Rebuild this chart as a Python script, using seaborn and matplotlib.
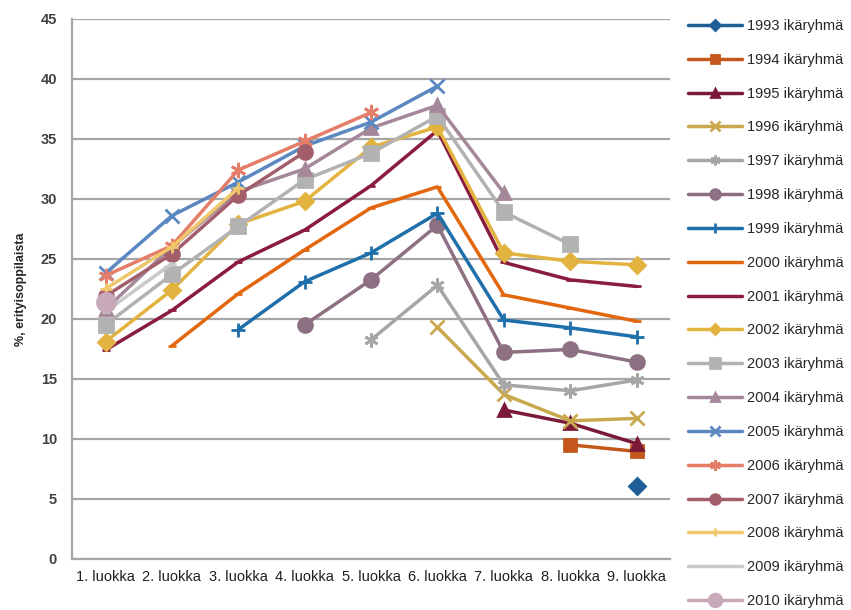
import numpy as np
import pandas as pd
import matplotlib
matplotlib.use("Agg")
import matplotlib.pyplot as plt
import seaborn as sns

# Grade levels on the x axis
grades = ["1. luokka", "2. luokka", "3. luokka", "4. luokka", "5. luokka",
          "6. luokka", "7. luokka", "8. luokka", "9. luokka"]

# Share of special-needs pupils (%) per age cohort; None = no data for that grade
cohorts = ["1993", "1994", "1995", "1996", "1997", "1998", "1999", "2000", "2001",
           "2002", "2003", "2004", "2005", "2006", "2007", "2008", "2009", "2010"]

v1993 = [None, None, None, None, None, None, None, None, 6.1]
v1994 = [None, None, None, None, None, None, None, 9.5, 8.95]
v1995 = [None, None, None, None, None, None, 12.4, 11.3, 9.6]
v1996 = [None, None, None, None, None, 19.3, 13.7, 11.5, 11.7]
v1997 = [None, None, None, None, 18.25, 22.8, 14.5, 14.0, 14.9]
v1998 = [None, None, None, 19.5, 23.25, 27.8, 17.2, 17.45, 16.4]
v1999 = [None, None, 19.1, 23.1, 25.5, 28.8, 19.9, 19.25, 18.5]
v2000 = [None, 17.75, 22.1, 25.75, 29.25, 31.0, 22.0, 20.9, 19.8]
v2001 = [17.4, 20.7, 24.75, 27.4, 31.1, 35.7, 24.7, 23.25, 22.7]
v2002 = [18.1, 22.4, 27.9, 29.8, 34.3, 36.0, 25.5, 24.8, 24.5]
v2003 = [19.5, 23.7, 27.7, 31.6, 33.8, 36.9, 28.9, 26.2, None]
v2004 = [20.8, 26.0, 30.6, 32.5, 35.9, 37.8, 30.5, None, None]
v2005 = [23.8, 28.6, 31.4, 34.4, 36.4, 39.4, None, None, None]
v2006 = [23.6, 26.1, 32.4, 34.8, 37.2, None, None, None, None]
v2007 = [21.9, 25.4, 30.3, 33.9, None, None, None, None, None]
v2008 = [22.5, 26.0, 30.9, None, None, None, None, None, None]
v2009 = [20.6, 24.6, None, None, None, None, None, None, None]
v2010 = [21.4, None, None, None, None, None, None, None, None]

values = [v1993, v1994, v1995, v1996, v1997, v1998, v1999, v2000, v2001,
          v2002, v2003, v2004, v2005, v2006, v2007, v2008, v2009, v2010]

colors = ["#1d5f96", "#c4581c", "#7a1a38", "#c9a84e", "#a6a6a6", "#8e7083",
          "#1f6faa", "#e2670f", "#8a1c40", "#e3b33f", "#b2b2b2", "#a5879a",
          "#5c88c2", "#e57e69", "#a35e6c", "#f0c76a", "#c9c9c9", "#c7a9ba"]

asterisk = (6, 2, 0)
markers = ["D", "s", "^", "x", asterisk, "o", "+", "_", "_",
           "D", "s", "^", "x", asterisk, "o", "+", "_", "o"]
msizes = [8, 9, 9, 10, 10, 10, 10, 6, 6, 8, 10, 9, 10, 11, 10, 9, 6, 13]

rows = []
for c, vals in zip(cohorts, values):
    for i, v in enumerate(vals):
        if v is not None:
            rows.append({"cohort": c + " ikäryhmä", "pos": i, "value": v})
df = pd.DataFrame(rows)

sns.set_theme(style="white")
plt.rcParams["font.family"] = ["Liberation Sans", "DejaVu Sans"]

fig = plt.figure(figsize=(8.51, 6.10), dpi=100)
ax = fig.add_axes([0.085, 0.084, 0.702, 0.885])

for c, col, mk, ms in zip(cohorts, colors, markers, msizes):
    sub = df[df["cohort"] == c + " ikäryhmä"]
    sns.lineplot(data=sub, x="pos", y="value", ax=ax, color=col, marker=mk,
                 markersize=ms, markeredgecolor=col, markeredgewidth=2,
                 linewidth=2.5, label=c + " ikäryhmä", sort=False)

ax.set_xlim(-0.5, 8.5)
ax.set_ylim(0, 45)
ax.set_yticks(np.arange(0, 46, 5))
ax.set_yticklabels([str(t) for t in range(0, 46, 5)], fontsize=10.5,
                   fontweight="bold", color="#404040")
ax.set_xticks(range(len(grades)))
ax.set_xticklabels(grades, fontsize=10.5, color="#202020")
ax.set_xticks(np.arange(-0.5, 9.0, 1.0), minor=True)
ax.tick_params(axis="x", which="major", length=0, pad=8)
ax.tick_params(axis="x", which="minor", length=5, color="#a0a0a0", width=1.2)
ax.tick_params(axis="y", which="major", length=5, color="#a0a0a0", width=1.2, pad=6)

ax.yaxis.grid(True, color="#a6a6a6", linewidth=1.6)
ax.set_axisbelow(True)
for side in ["top", "right"]:
    ax.spines[side].set_visible(False)
for side in ["left", "bottom"]:
    ax.spines[side].set_color("#a6a6a6")
    ax.spines[side].set_linewidth(1.6)

ax.set_xlabel("")
ax.set_ylabel("%, erityisoppilaista", fontsize=9, fontweight="bold", labelpad=10)

handles, labels = ax.get_legend_handles_labels()
ax.get_legend().remove()
fig.legend(handles, labels, loc="center left", bbox_to_anchor=(0.802, 0.486),
           frameon=False, fontsize=10.5, handlelength=3.7, labelspacing=1.36,
           handletextpad=0.3, borderaxespad=0, markerscale=0.7)

fig.savefig("out.png", dpi=100)
